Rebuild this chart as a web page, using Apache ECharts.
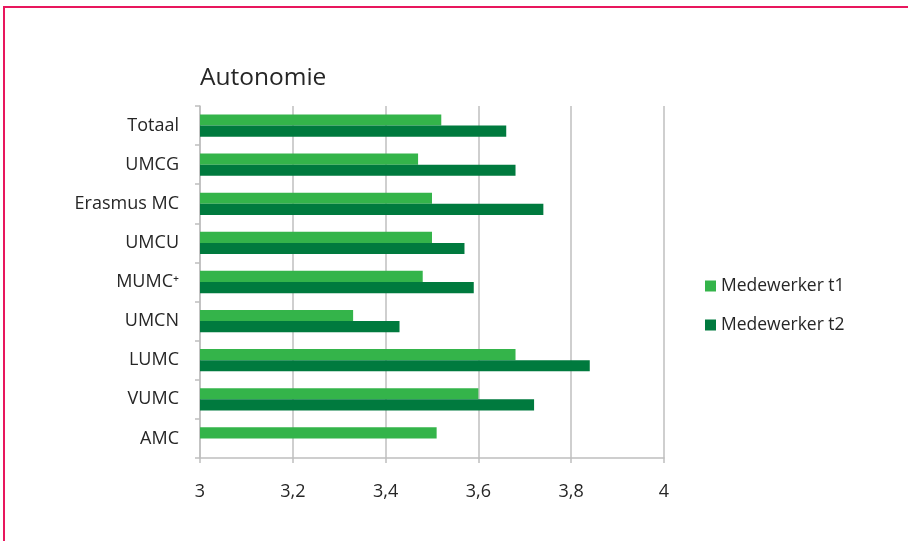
<!DOCTYPE html>
<html>
<head>
<meta charset="utf-8">
<script src="https://cdn.jsdelivr.net/npm/echarts@6/dist/echarts.min.js"></script>
<style>html,body{margin:0;padding:0;background:#fff;}#c{width:908px;height:541px;}</style>
</head>
<body>
<div id="c"></div>
<script>
var categories = ['Totaal', 'UMCG', 'Erasmus MC', 'UMCU', 'MUMC\u207A', 'UMCN', 'LUMC', 'VUMC', 'AMC'];
var seriesT1 = [3.52, 3.47, 3.50, 3.50, 3.48, 3.33, 3.68, 3.60, 3.51];
var seriesT2 = [3.66, 3.68, 3.74, 3.57, 3.59, 3.43, 3.84, 3.72, null];
var seriesNames = ['Medewerker t1', 'Medewerker t2'];
var xTicks = [3, 3.2, 3.4, 3.6, 3.8, 4];

var font = 'Open Sans';
var chart = echarts.init(document.getElementById('c'));
chart.setOption({
  animation: false,
  backgroundColor: '#fff',
  title: {
    text: 'Autonomie', left: 195, top: 61,
    textStyle: {fontFamily: font, fontSize: 24.5, fontWeight: 'normal', color: '#262626'}
  },
  legend: {
    orient: 'vertical', left: 700, top: 272,
    itemWidth: 11, itemHeight: 11, itemGap: 21,
    icon: 'rect',
    textStyle: {fontFamily: font, fontSize: 17.5, color: '#262626', padding: [0, 0, 0, 0]},
    data: seriesNames
  },
  grid: {left: 200, right: 244, top: 106, bottom: 83},
  xAxis: {
    type: 'value', min: 3, max: 4, interval: 0.2,
    axisLine: {show: true, lineStyle: {color: '#bfbfbf', width: 1.5}},
    axisTick: {show: true, length: 5, lineStyle: {color: '#bfbfbf', width: 1.5}},
    splitLine: {show: true, lineStyle: {color: '#bfbfbf', width: 1.5}},
    axisLabel: {
      margin: 25, fontFamily: font, fontSize: 18, color: '#262626',
      formatter: function (v) { return String(Math.round(v * 10) / 10).replace('.', ','); }
    }
  },
  yAxis: {
    type: 'category', data: categories, inverse: true,
    axisLine: {show: true, lineStyle: {color: '#bfbfbf', width: 1.5}},
    axisTick: {show: true, length: 5, lineStyle: {color: '#bfbfbf', width: 1.5}},
    axisLabel: {margin: 21, fontFamily: font, fontSize: 18, color: '#262626'}
  },
  series: [
    {name: seriesNames[0], type: 'bar', data: seriesT1, barGap: '0%', barCategoryGap: '43%',
     itemStyle: {color: '#34b44a'}},
    {name: seriesNames[1], type: 'bar', data: seriesT2, barGap: '0%', barCategoryGap: '43%',
     itemStyle: {color: '#007a3e'}}
  ],
  graphic: [
    {type: 'line', shape: {x1: 4, y1: 7, x2: 908, y2: 7}, style: {stroke: '#e8175d', lineWidth: 2}, silent: true},
    {type: 'line', shape: {x1: 4, y1: 6, x2: 4, y2: 541}, style: {stroke: '#e8175d', lineWidth: 2}, silent: true}
  ]
});
</script>
</body>
</html>
